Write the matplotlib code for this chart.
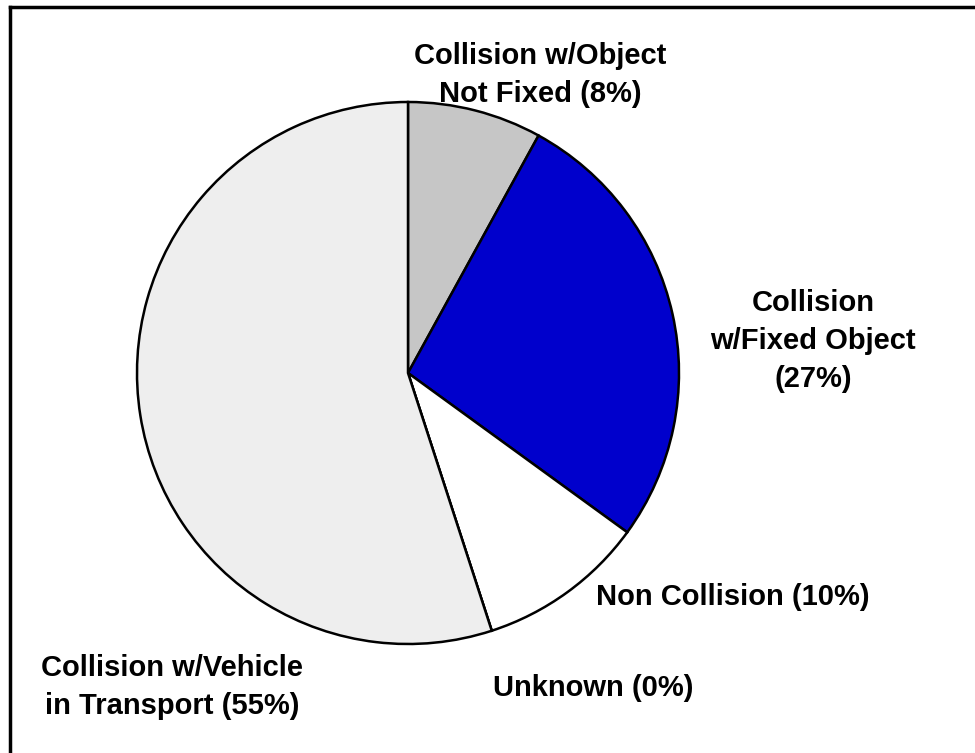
import matplotlib
matplotlib.use('Agg')
import matplotlib.pyplot as plt
from matplotlib.lines import Line2D

plt.rcParams['font.family'] = ['Liberation Sans', 'DejaVu Sans']

# crash type shares (%), clockwise from 12 o'clock
categories = ['Collision w/Object\nNot Fixed (8%)',
              'Collision\nw/Fixed Object\n(27%)',
              'Non Collision (10%)',
              'Unknown (0%)',
              'Collision w/Vehicle\nin Transport (55%)']
shares = [8, 27, 10, 0, 55]
colors = ['#c6c6c6', '#0000cc', '#ffffff', '#ffffff', '#eeeeee']

# label anchor points (pixels, top-left origin)
label_pos = [(540, 75), (813, 341), (733, 597), (593, 688), (172, 687)]

W, H = 975, 753
fig = plt.figure(figsize=(W / 100, H / 100), dpi=100)
ax = fig.add_axes([0, 0, 1, 1])

ax.pie(shares, colors=colors, startangle=90, counterclock=False,
       center=(408, H - 373), radius=271, frame=True,
       wedgeprops=dict(edgecolor='black', linewidth=1.8))
ax.set_xlim(0, W)
ax.set_ylim(0, H)
ax.axis('off')

for txt, (x, y) in zip(categories, label_pos):
    ax.text(x, H - y, txt, ha='center', va='center', fontsize=21,
            fontweight='bold', linespacing=1.46)

# frame: only top and left edges visible
fig.add_artist(Line2D([10 / W, 10 / W], [0, 1 - 7 / H], color='black', lw=2.5,
                      transform=fig.transFigure))
fig.add_artist(Line2D([10 / W, 1], [1 - 7 / H, 1 - 7 / H], color='black', lw=2.5,
                      transform=fig.transFigure))

fig.savefig('out.png', dpi=100)
